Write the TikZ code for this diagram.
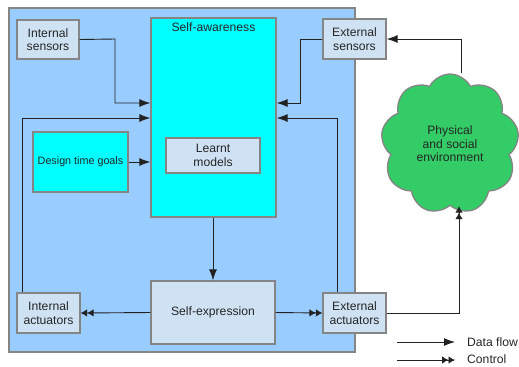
\documentclass[tikz,border=0pt]{standalone}
\usepackage{fontspec}
\setmainfont{Liberation Sans}
\usetikzlibrary{arrows.meta,shapes.symbols}
\definecolor{outerblue}{HTML}{99CCFF}
\definecolor{boxgray}{HTML}{858585}
\definecolor{lightbox}{HTML}{CFE2F3}
\definecolor{cyanbox}{HTML}{00FFFF}
\definecolor{cloudgreen}{HTML}{33CC66}
\definecolor{linecol}{HTML}{222222}
\begin{document}
\begin{tikzpicture}[x=1bp,y=-1bp,
  txt/.style={font=\fontsize{12.2}{13.6}\selectfont,text=black!85},
  box/.style={draw=boxgray,line width=1.3bp,fill=lightbox,inner sep=0pt,align=center,txt},
  data/.style={draw=linecol,line width=0.9bp,-{Latex[length=11bp,width=8bp]}},
  ctrl/.style={draw=linecol,line width=0.9bp,-{Latex[length=6.5bp,width=7.5bp]Latex[length=6.5bp,width=7.5bp]}}
]
\useasboundingbox (0,0) rectangle (519,366);
\fill[white] (0,0) rectangle (519,366);
% outer system
\draw[draw=boxgray,line width=1.3bp,fill=outerblue] (9,8) rectangle (355,352);
% nodes
\node[box,fill=cyanbox,minimum width=125bp,minimum height=199bp,
  label={[anchor=north,inner sep=0pt,yshift=-5bp,txt]north:Self-awareness}]
  (sa) at (213.5,117.5) {};
\node[box,minimum width=94bp,minimum height=35bp] (lm) at (213,155.5) {Learnt\\models};
\node[box,fill=cyanbox,minimum width=95bp,minimum height=60bp,font=\fontsize{10.8}{12}\selectfont] (dg) at (80.5,162) {Design time goals};
\node[box,minimum width=62bp,minimum height=39bp] (is) at (48,39.5) {Internal\\sensors};
\node[box,minimum width=63bp,minimum height=40bp] (es) at (354.5,39) {External\\sensors};
\node[box,minimum width=124bp,minimum height=63bp] (se) at (213,312.5) {Self-expression};
\node[box,minimum width=63bp,minimum height=40bp] (ia) at (48.5,313) {Internal\\actuators};
\node[box,minimum width=63bp,minimum height=40bp] (ea) at (354.5,313) {External\\actuators};
\node[cloud,cloud puffs=9,cloud puff arc=125,aspect=1,draw=boxgray,line width=1.3bp,fill=cloudgreen,
  minimum width=138bp,minimum height=140bp,inner sep=0pt,align=center,txt] (env) at (450,144) {Physical\\and social\\environment};
% connectors
\draw[data] (is.east) -- (115,39) -- (115,103) -- (sa.west |- 0,103);
\draw[data] (ia.north -| 22,0) -- (22,118) -- (sa.west |- 0,118);
\draw[data] (dg.east) -- (sa.west |- dg.east);
\draw[data] (es.west) -- (300,39) -- (300,103) -- (sa.east |- 0,103);
\draw[data] (ea.north -| 337,0) -- (337,118) -- (sa.east |- 0,118);
\draw[data] (env.north -| 461,0) -- (461,39) -- (es.east);
\draw[data] (sa.south -| se.north) -- (se.north);
\draw[ctrl] (se.west) -- (ia.east);
\draw[ctrl] (se.east) -- (ea.west);
\draw[ctrl] (ea.east) -- (459,313) -- (env.south -| 459,0);
% legend
\coordinate (l1a) at (397,342);
\coordinate (l1b) at (455,342);
\coordinate (l2a) at (397,360);
\coordinate (l2b) at (455,360);
\draw[data] (l1a) -- (l1b);
\draw[ctrl] (l2a) -- (l2b);
\node[anchor=west,inner sep=0pt,txt] (ldf) at (467,342) {Data flow};
\node[anchor=west,inner sep=0pt,txt] (lct) at (467,359.5) {Control};
\end{tikzpicture}
\end{document}
